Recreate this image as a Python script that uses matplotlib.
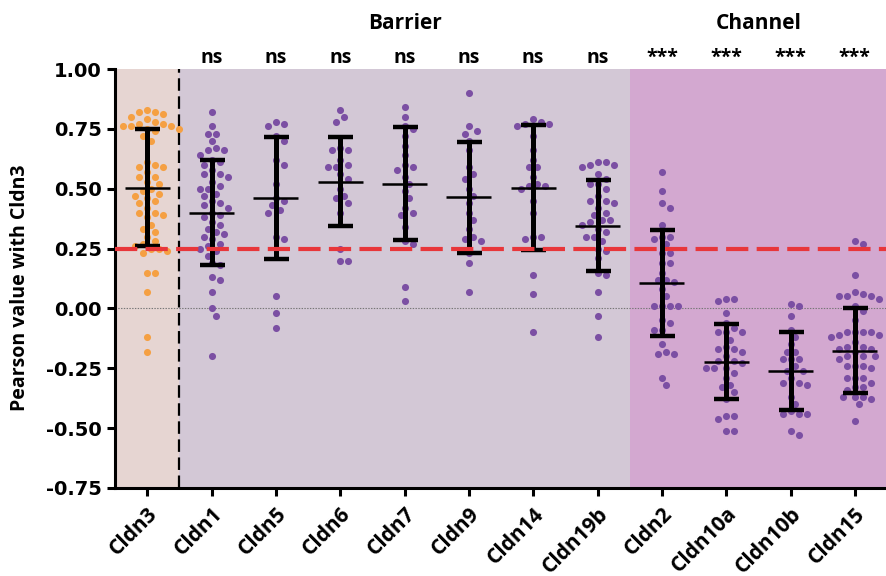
import numpy as np
import matplotlib
matplotlib.use("Agg")
import matplotlib.pyplot as plt

# groups on the x axis
genes = ["Cldn3", "Cldn1", "Cldn5", "Cldn6", "Cldn7", "Cldn9", "Cldn14", "Cldn19b",
         "Cldn2", "Cldn10a", "Cldn10b", "Cldn15"]
signif = ["", "ns", "ns", "ns", "ns", "ns", "ns", "ns", "***", "***", "***", "***"]

# mean and SD
means = [0.505, 0.40, 0.46, 0.53, 0.52, 0.465, 0.505, 0.345, 0.105, -0.222, -0.263, -0.176]
sds = [0.245, 0.22, 0.255, 0.187, 0.236, 0.232, 0.26, 0.19, 0.222, 0.157, 0.163, 0.178]

# individual Pearson values per gene
cldn3 = [0.83, 0.82, 0.82, 0.81, 0.80, 0.79, 0.78, 0.77, 0.77, 0.76, 0.76, 0.76, 0.75, 0.75,
         0.74, 0.72, 0.70, 0.61, 0.60, 0.59, 0.59, 0.57, 0.55, 0.55, 0.53, 0.52, 0.50, 0.49,
         0.48, 0.47, 0.46, 0.45, 0.44, 0.42, 0.40, 0.40, 0.39, 0.38, 0.35, 0.33, 0.32, 0.30,
         0.28, 0.27, 0.26, 0.25, 0.25, 0.24, 0.23, 0.15, 0.15, 0.07, -0.12, -0.18]
cldn1 = [0.82, 0.76, 0.73, 0.73, 0.70, 0.67, 0.66, 0.66, 0.64, 0.62, 0.61, 0.60, 0.58, 0.56,
         0.56, 0.55, 0.53, 0.51, 0.50, 0.50, 0.48, 0.47, 0.45, 0.44, 0.43, 0.42, 0.40, 0.39,
         0.38, 0.36, 0.35, 0.33, 0.32, 0.31, 0.30, 0.29, 0.27, 0.26, 0.25, 0.24, 0.22, 0.19,
         0.18, 0.13, 0.12, 0.07, 0.00, -0.03, -0.20]
cldn5 = [0.78, 0.77, 0.76, 0.72, 0.70, 0.62, 0.60, 0.52, 0.46, 0.45, 0.43, 0.41, 0.40, 0.30,
         0.29, 0.05, -0.02, -0.08]
cldn6 = [0.83, 0.80, 0.78, 0.67, 0.66, 0.66, 0.62, 0.60, 0.59, 0.59, 0.56, 0.54, 0.50, 0.47,
         0.46, 0.44, 0.40, 0.25, 0.20, 0.20]
cldn7 = [0.84, 0.80, 0.76, 0.75, 0.72, 0.68, 0.64, 0.60, 0.59, 0.58, 0.55, 0.52, 0.49, 0.46,
         0.42, 0.40, 0.39, 0.34, 0.28, 0.27, 0.09, 0.03]
cldn9 = [0.90, 0.76, 0.74, 0.73, 0.70, 0.66, 0.59, 0.56, 0.54, 0.50, 0.47, 0.44, 0.40, 0.37,
         0.33, 0.30, 0.29, 0.28, 0.23, 0.19, 0.07]
cldn14 = [0.79, 0.78, 0.77, 0.77, 0.76, 0.72, 0.66, 0.62, 0.59, 0.59, 0.55, 0.52, 0.51, 0.51,
          0.50, 0.45, 0.40, 0.30, 0.30, 0.29, 0.14, 0.06, -0.10]
cldn19b = [0.61, 0.61, 0.60, 0.60, 0.59, 0.56, 0.54, 0.52, 0.52, 0.50, 0.47, 0.45, 0.45, 0.44,
           0.42, 0.40, 0.39, 0.37, 0.37, 0.36, 0.35, 0.33, 0.32, 0.30, 0.30, 0.28, 0.25, 0.24,
           0.21, 0.15, 0.14, 0.07, -0.03, -0.12]
cldn2 = [0.57, 0.49, 0.44, 0.42, 0.35, 0.30, 0.30, 0.29, 0.27, 0.23, 0.23, 0.19, 0.19, 0.15,
         0.12, 0.12, 0.11, 0.08, 0.05, 0.01, 0.01, 0.01, 0.01, -0.05, -0.06, -0.09, -0.09,
         -0.15, -0.18, -0.19, -0.19, -0.29, -0.32]
cldn10a = [0.04, 0.04, 0.03, -0.02, -0.06, -0.08, -0.10, -0.10, -0.10, -0.13, -0.16, -0.17,
           -0.17, -0.18, -0.20, -0.22, -0.22, -0.23, -0.25, -0.25, -0.25, -0.27, -0.29, -0.32,
           -0.33, -0.35, -0.38, -0.45, -0.45, -0.46, -0.51, -0.51]
cldn10b = [0.02, 0.01, -0.03, -0.09, -0.12, -0.15, -0.18, -0.18, -0.21, -0.21, -0.21, -0.24,
           -0.26, -0.26, -0.29, -0.31, -0.31, -0.32, -0.37, -0.40, -0.43, -0.44, -0.44, -0.44,
           -0.51, -0.53]
cldn15 = [0.28, 0.27, 0.14, 0.07, 0.06, 0.05, 0.05, 0.05, 0.04, 0.01, -0.01, -0.05, -0.10,
          -0.10, -0.10, -0.10, -0.11, -0.11, -0.12, -0.14, -0.16, -0.16, -0.17, -0.17, -0.18,
          -0.20, -0.20, -0.20, -0.21, -0.24, -0.24, -0.24, -0.25, -0.29, -0.29, -0.29, -0.31,
          -0.33, -0.33, -0.34, -0.37, -0.37, -0.37, -0.38, -0.40, -0.47]
values = [cldn3, cldn1, cldn5, cldn6, cldn7, cldn9, cldn14, cldn19b,
          cldn2, cldn10a, cldn10b, cldn15]

threshold = 0.25

plt.rcParams['font.family'] = ['Open Sans', 'DejaVu Sans']
plt.rcParams['lines.scale_dashes'] = False

fig = plt.figure(figsize=(8.87, 5.76), dpi=100)
ax = fig.add_axes([0.1297, 0.1528, 0.8703, 0.7274])
ax.set_xlim(-0.5, 11.5)
ax.set_ylim(-0.75, 1.0)

# background bands
ax.axvspan(-0.5, 0.5, color="#e6d5d2", lw=0, zorder=0)
ax.axvspan(0.5, 7.5, color="#d3c8d6", lw=0, zorder=0)
ax.axvspan(7.5, 11.5, color="#d3a8d0", lw=0, zorder=0)

ax.axhline(0, color="#777777", lw=0.8, ls=(0, (1, 1)), zorder=1)
ax.axvline(0.5, color="black", lw=1.6, ls=(0, (9, 4)), zorder=2)


def beeswarm(vals, px_x, px_y, diam=7.8, step=8.0):
    # simple swarm: put each point at the nearest free horizontal offset
    order = np.argsort(vals)[::-1]
    placed = []
    offs = np.zeros(len(vals))
    for i in order:
        y = vals[i] * px_y
        cands = [0.0]
        for n in range(1, 20):
            cands += [n * step / 2, -n * step / 2]
        for c in cands:
            ok = all((c - px) ** 2 + (y - py) ** 2 >= diam ** 2 for px, py in placed)
            if ok:
                offs[i] = c
                placed.append((c, y))
                break
    return offs / px_x


px_x = 0.8703 * 887 / 12.0
px_y = 0.7274 * 576 / 1.75
for i, vals in enumerate(values):
    vals = np.array(vals)
    dx = beeswarm(vals, px_x, px_y)
    col = "#f5a043" if i == 0 else "#7b4fa3"
    ax.scatter(i + dx, vals, s=26, color=col, lw=0, zorder=3)

# mean +/- SD
xs = np.arange(len(genes))
ax.errorbar(xs, means, yerr=sds, fmt="none", ecolor="black", elinewidth=3.6,
            capsize=9, capthick=3.2, zorder=4)
ax.hlines(means, xs - 0.35, xs + 0.35, color="black", lw=1.8, zorder=4)

ax.axhline(threshold, color="#e8363a", lw=3.0, ls=(0, (16, 6)), zorder=5)

# axes styling
for s in ["top", "right"]:
    ax.spines[s].set_visible(False)
for s in ["left", "bottom"]:
    ax.spines[s].set_linewidth(2.2)
ax.set_yticks([1.0, 0.75, 0.5, 0.25, 0.0, -0.25, -0.5, -0.75])
ax.set_yticklabels(["1.00", "0.75", "0.50", "0.25", "0.00", "-0.25", "-0.50", "-0.75"],
                   fontsize=14, fontweight="bold", family="DejaVu Sans")
ax.set_xticks(xs)
ax.set_xticklabels(genes, rotation=45, ha="right", rotation_mode="anchor",
                   fontsize=15, fontweight="bold")
ax.tick_params(width=2.2, length=6, direction="out")
ax.tick_params(axis="x", pad=5)
fig.text(20 / 887, 0.5, "Pearson value with Cldn3", rotation=90, ha="center", va="center",
         fontsize=14, fontweight="bold")

for i, t in enumerate(signif):
    if t:
        ax.annotate(t, (i, 1.0), xytext=(0, 1), textcoords="offset points",
                    ha="center", va="bottom", fontsize=14, fontweight="bold",
                    annotation_clip=False)
ax.annotate("Barrier", (4, 1.0), xytext=(0, 25), textcoords="offset points",
            ha="center", va="bottom", fontsize=15, fontweight="bold", annotation_clip=False)
ax.annotate("Channel", (9.5, 1.0), xytext=(0, 25), textcoords="offset points",
            ha="center", va="bottom", fontsize=15, fontweight="bold", annotation_clip=False)

fig.savefig("out.png", dpi=100)
